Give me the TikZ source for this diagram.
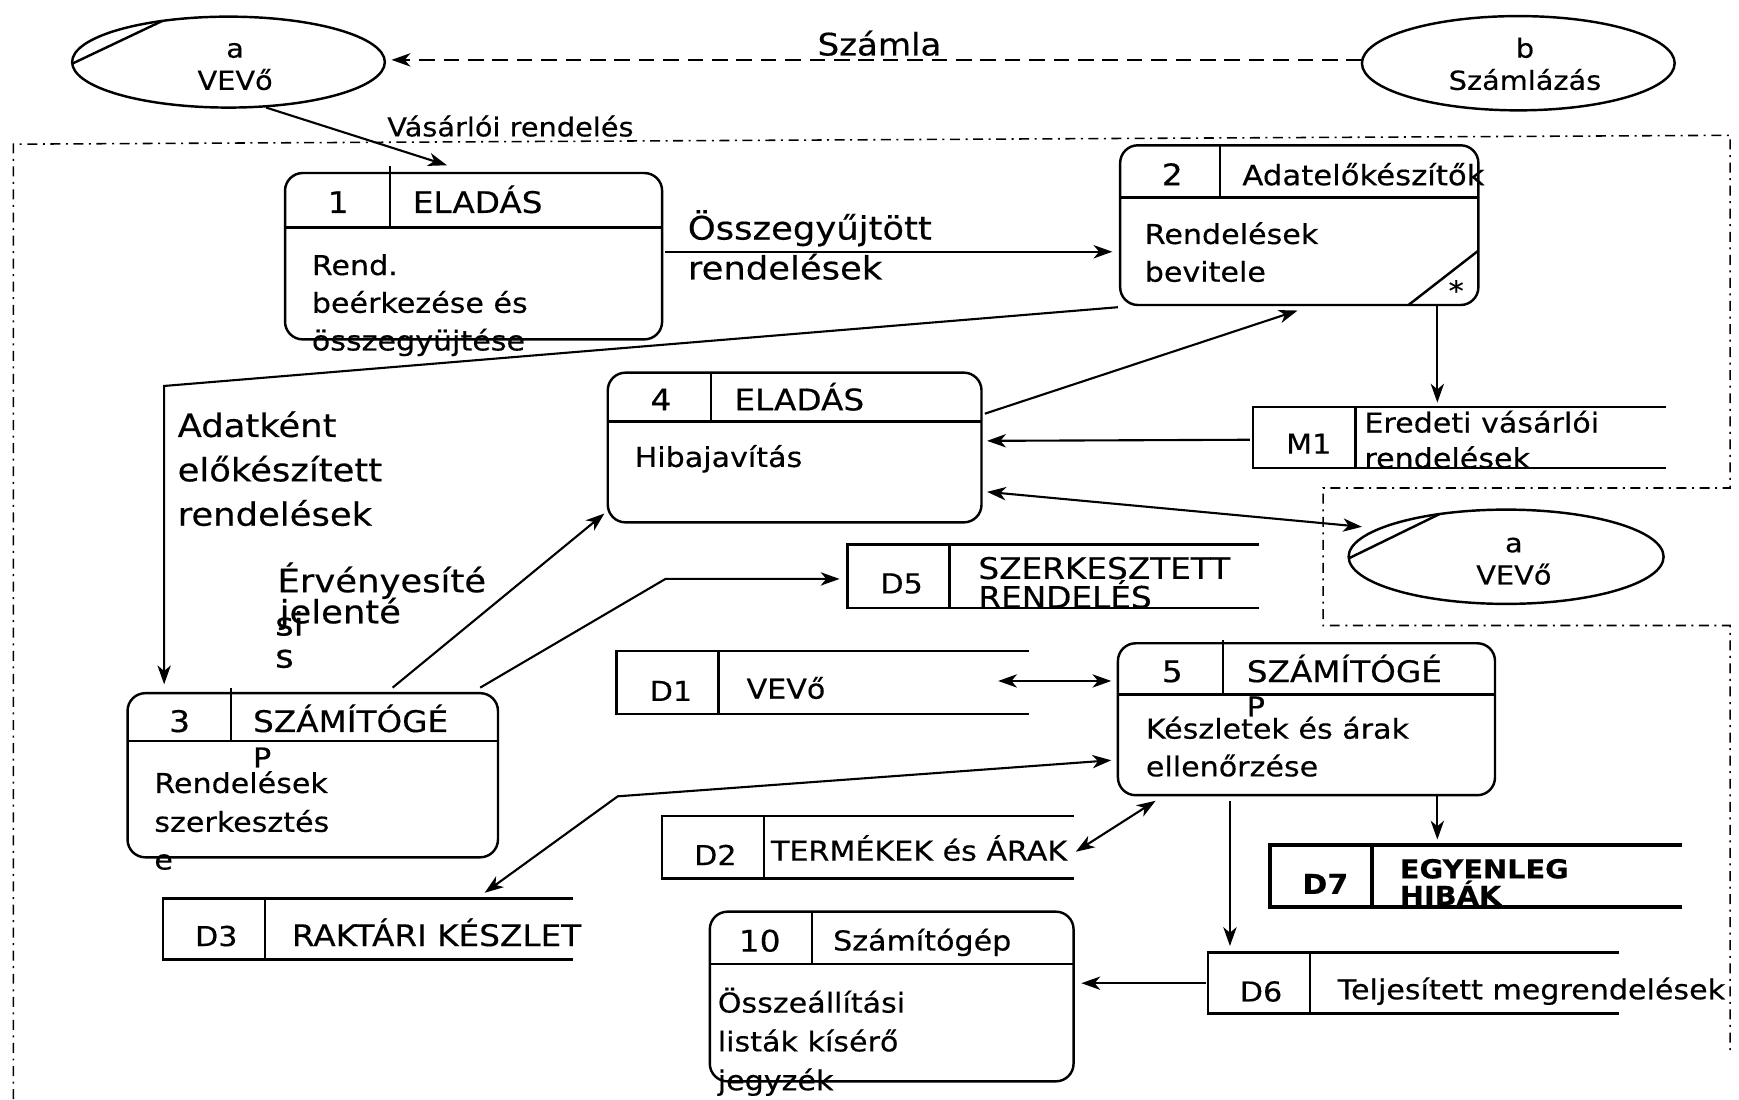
\documentclass[tikz,border=0pt]{standalone}
\usepackage{fontspec}
\setmainfont{DejaVu Sans}[FakeStretch=1.1, FakeBold=0.4]
\usetikzlibrary{shapes.geometric,arrows.meta,calc}
\newcommand\bodyf{\fontsize{24.7}{34}\selectfont}
\newcommand\hdrf{\fontsize{26.8}{30}\selectfont}
\newcommand\bigf{\fontsize{29}{40}\selectfont}
\newcommand\smf{\fontsize{23.6}{28}\selectfont}
\newcommand\dstore[2]{%
  \draw[#2] (#1.north east) -- (#1.north west) -- (#1.south west) -- (#1.south east);
  \draw[#2] ($(#1.north west)+(92,0)$) -- ($(#1.south west)+(92,0)$);}
\begin{document}
\begin{tikzpicture}[x=1pt,y=-1pt,
  >={Stealth[length=17pt,width=12pt,inset=5pt]},
  proc/.style={draw, line width=2.2pt, rounded corners=16pt, inner sep=0pt, outer sep=0pt},
  ent/.style={draw, ellipse, line width=2.2pt, inner sep=0pt, outer sep=0pt},
  sto/.style={inner sep=0pt, outer sep=0pt},
  ln/.style={line width=1.9pt},
  sl/.style={line width=2.2pt},
  thk/.style={line width=3.2pt},
  dv/.style={line width=1.8pt},
  bound/.style={line width=1.4pt, dash pattern=on 9pt off 5pt on 1.8pt off 5pt},
  tl/.style={inner sep=0pt, anchor=base west},
  tc/.style={inner sep=0pt, anchor=base},
]
\useasboundingbox (0,0) rectangle (1568,991);
\fill[white] (0,0) rectangle (1568,991);

% boundary
\draw[bound] (12,991) -- (12,130) -- (1560,122) -- (1560,440) -- (1193,440) -- (1193,564) -- (1560,564) -- (1560,950);

% external entities
\node[ent, minimum width=282, minimum height=82] (ea) at (206,56) {};
\draw[sl] ($(ea.center)+({141*cos(182)},{-41*sin(182)})$) -- ($(ea.center)+({141*cos(115)},{-41*sin(115)})$);
\node[tc, font=\smf] (eat1) at (212,52) {a};
\node[tc, font=\smf] (eat2) at (212,81) {VEVő};

\node[ent, minimum width=282, minimum height=85] (eb) at (1369,57) {};
\node[tc, font=\smf] (ebt1) at (1375,52) {b};
\node[tc, font=\smf] (ebt2) at (1375,81) {Számlázás};

\node[ent, minimum width=284, minimum height=85] (ea2) at (1358,502) {};
\draw[sl] ($(ea2.center)+({142*cos(182)},{-42.5*sin(182)})$) -- ($(ea2.center)+({142*cos(115)},{-42.5*sin(115)})$);
\node[tc, font=\smf] (ea2t1) at (1365,498) {a};
\node[tc, font=\smf] (ea2t2) at (1365,527) {VEVő};

% process 1
\node[proc, minimum width=340, minimum height=150] (p1) at (427,231) {};
\draw[sl] (257,205) -- (597,205);
\draw[dv] (352,150) -- (352,205);
\node[tc, font=\hdrf] (p1n) at (305,192) {1};
\node[tl, font=\hdrf] (p1h) at (372,192) {ELADÁS};
\node[tl, font=\bodyf] (p1b1) at (281,248) {Rend.};
\node[tl, font=\bodyf] (p1b2) at (281,282) {beérkezése és};
\node[tl, font=\bodyf] (p1b3) at (281,316) {összegyüjtése};

% process 2
\node[proc, minimum width=323, minimum height=144] (p2) at (1171.5,203) {};
\draw[sl] (1010,178) -- (1333,178);
\draw[dv] (1100,131) -- (1100,178);
\draw[sl] (1270,275) -- (1333,226);
\node[tc, font=\hdrf] (p2n) at (1057,167) {2};
\node[tl, font=\fontsize{25.2}{30}\selectfont] (p2h) at (1120,167) {Adatelőkészítők};
\node[tl, font=\bodyf] (p2b1) at (1032,220) {Rendelések};
\node[tl, font=\bodyf] (p2b2) at (1032,254) {bevitele};
\node[tc, font=\bodyf] (p2s) at (1313,271) {*};

% process 4
\node[proc, minimum width=337, minimum height=135] (p4) at (716.5,403.5) {};
\draw[sl] (548,380) -- (885,380);
\draw[dv] (641,336) -- (641,380);
\node[tc, font=\hdrf] (p4n) at (596,370) {4};
\node[tl, font=\hdrf] (p4h) at (662,370) {ELADÁS};
\node[tl, font=\bodyf] (p4b1) at (572,421) {Hibajavítás};

% process 3
\node[proc, minimum width=334, minimum height=148] (p3) at (282,699) {};
\draw[sl] (115,668) -- (449,668);
\draw[dv] (208,620) -- (208,668);
\node[tc, font=\hdrf] (p3n) at (162,660) {3};
\node[tl, font=\hdrf] (p3h) at (228,660) {SZÁMÍTÓGÉ};
\node[tl, font=\bodyf] (p3p) at (228,692) {P};
\node[tl, font=\bodyf] (p3b1) at (139,715) {Rendelések};
\node[tl, font=\bodyf] (p3b2) at (139,750) {szerkesztés};
\node[tl, font=\bodyf] (p3b3) at (139,784) {e};

% process 5
\node[proc, minimum width=340, minimum height=137] (p5) at (1178,648.5) {};
\draw[sl] (1008,626) -- (1348,626);
\draw[dv] (1103,577) -- (1103,626);
\node[tc, font=\hdrf] (p5n) at (1057,615) {5};
\node[tl, font=\hdrf] (p5h) at (1124,615) {SZÁMÍTÓGÉ};
\node[tl, font=\bodyf] (p5p) at (1124,646) {P};
\node[tl, font=\bodyf] (p5b1) at (1033,666) {Készletek és árak};
\node[tl, font=\bodyf] (p5b2) at (1033,700) {ellenőrzése};

% process 10
\node[proc, minimum width=328, minimum height=153] (p10) at (804,898.5) {};
\draw[sl] (640,869) -- (968,869);
\draw[dv] (732,822) -- (732,869);
\node[tc, font=\hdrf] (p10n) at (685,858) {10};
\node[tl, font=\bodyf] (p10h) at (751,857) {Számítógép};
\node[tl, font=\bodyf] (p10b1) at (647,913) {Összeállítási};
\node[tl, font=\bodyf] (p10b2) at (647,948) {listák kísérő};
\node[tl, font=\bodyf] (p10b3) at (647,983) {jegyzék};

% data stores
\node[sto, minimum width=372, minimum height=55] (m1) at (1316,394.5) {};
\dstore{m1}{sl}
\node[tc, font=\bodyf] (m1n) at (1180,409) {M1};
\node[tl, font=\bodyf] (m1t1) at (1230,390) {Eredeti vásárlói};
\node[tl, font=\bodyf] (m1t2) at (1230,422) {rendelések};

\node[sto, minimum width=371, minimum height=57] (d5) at (949.5,519.5) {};
\dstore{d5}{sl}
\node[tc, font=\bodyf] (d5n) at (813,535) {D5};
\node[tl, font=\hdrf] (d5t1) at (882,522) {SZERKESZTETT};
\node[tl, font=\hdrf] (d5t2) at (882,548) {RENDELÉS};

\node[sto, minimum width=372, minimum height=57] (d1) at (742,615.5) {};
\dstore{d1}{sl}
\node[tc, font=\bodyf] (d1n) at (605,632) {D1};
\node[tl, font=\bodyf] (d1t) at (673,630) {VEVő};

\node[sto, minimum width=371, minimum height=56] (d2) at (782.5,764) {};
\dstore{d2}{sl}
\node[tc, font=\bodyf] (d2n) at (645,780) {D2};
\node[tl, font=\bodyf] (d2t) at (695,776) {TERMÉKEK és ÁRAK};

\node[sto, minimum width=370, minimum height=55] (d3) at (332,837.5) {};
\dstore{d3}{sl}
\node[tc, font=\bodyf] (d3n) at (195,853) {D3};
\node[tl, font=\hdrf] (d3t) at (263,853) {RAKTÁRI KÉSZLET};

\node[sto, minimum width=371, minimum height=55] (d6) at (1274.5,886.5) {};
\dstore{d6}{sl}
\node[tc, font=\bodyf] (d6n) at (1137,903) {D6};
\node[tl, font=\bodyf] (d6t) at (1206,901) {Teljesített megrendelések};

\node[sto, minimum width=372, minimum height=56] (d7) at (1331,790) {};
\dstore{d7}{thk}
\node[tc, font=\bodyf\bfseries] (d7n) at (1195,806) {D7};
\node[tl, font=\smf\bfseries] (d7t1) at (1262,792) {EGYENLEG};
\node[tl, font=\smf\bfseries] (d7t2) at (1262,816) {HIBÁK};

% flow labels
\node[tc, font=\fontsize{27.9}{30}\selectfont] (lszamla) at (793,50) {Számla};
\node[tl, font=\smf] (lvas) at (349,123) {Vásárlói rendelés};
\node[tl, font=\bigf] (lossz1) at (620,216) {Összegyűjtött};
\node[tl, font=\bigf] (lossz2) at (620,252) {rendelések};
\node[tl, font=\bigf] (ladat1) at (160,394) {Adatként};
\node[tl, font=\bigf] (ladat2) at (160,434) {előkészített};
\node[tl, font=\bigf] (ladat3) at (160,474) {rendelések};
\node[tl, font=\bigf] (lerv1) at (250,534) {Érvényesíté};
\node[tl, font=\bigf] (lerv2) at (252,562) {jelenté};
\node[tl, font=\bigf] (lerv3) at (248,573) {si};
\node[tl, font=\bigf] (lerv4) at (248,602) {s};

% connectors
\coordinate (k1) at (148,348);
\coordinate (k2) at (600,522);
\coordinate (k3) at (557,718);
\draw[ln,dash pattern=on 14pt off 8pt,->] ($(eb.west)+(0,-3)$) -- ($(ea.east)+(6,-2)$);
\draw[ln,->] ($(ea.center)+(34,41)$) -- ($(p1.north west)+(146,-7)$);
\draw[ln,->] ($(p1.east)+(3,-4)$) -- ($(p2.west)+(-7,24)$);
\draw[ln,->] ($(p2.south west)+(-2,2)$) -- (k1) -- ($(p3.north west)+(33,-8)$);
\draw[ln,->] ($(p4.north east)+(3,37)$) -- ($(p2.south west)+(160,5)$);
\draw[ln,->] ($(p2.south east)+(-37,0)$) -- ($(m1.north west)+(166,-4)$);
\draw[ln,->] ($(m1.west)+(-3,2)$) -- ($(p4.east)+(5,-6)$);
\draw[ln,<->] ($(p4.east)+(5,40)$) -- ($(ea2.center)+(-130,-27)$);
\draw[ln,->] ($(p3.north west)+(239,-5)$) -- ($(p4.south west)+(-3,-8)$);
\draw[ln,->] ($(p3.north east)+(-16,-5)$) -- (k2) -- ($(d5.west)+(-7,2.5)$);
\draw[ln,<->] ($(d1.east)+(-28,-1.5)$) -- ($(p5.west)+(-6,-34.5)$);
\draw[ln,<->] ($(p5.west)+(-6,37)$) -- (k3) -- ($(d3.north west)+(290,-5)$);
\draw[ln,<->] ($(d2.east)+(2,4)$) -- ($(p5.south west)+(34,5)$);
\draw[ln,->] ($(p5.south west)+(101,5)$) -- ($(d6.north west)+(20,-6)$);
\draw[ln,->] ($(p5.south east)+(-52,0)$) -- ($(d7.north west)+(151,-5)$);
\draw[ln,->] ($(d6.west)+(-2,0)$) -- ($(p10.east)+(7,-12)$);
\end{tikzpicture}
\end{document}
